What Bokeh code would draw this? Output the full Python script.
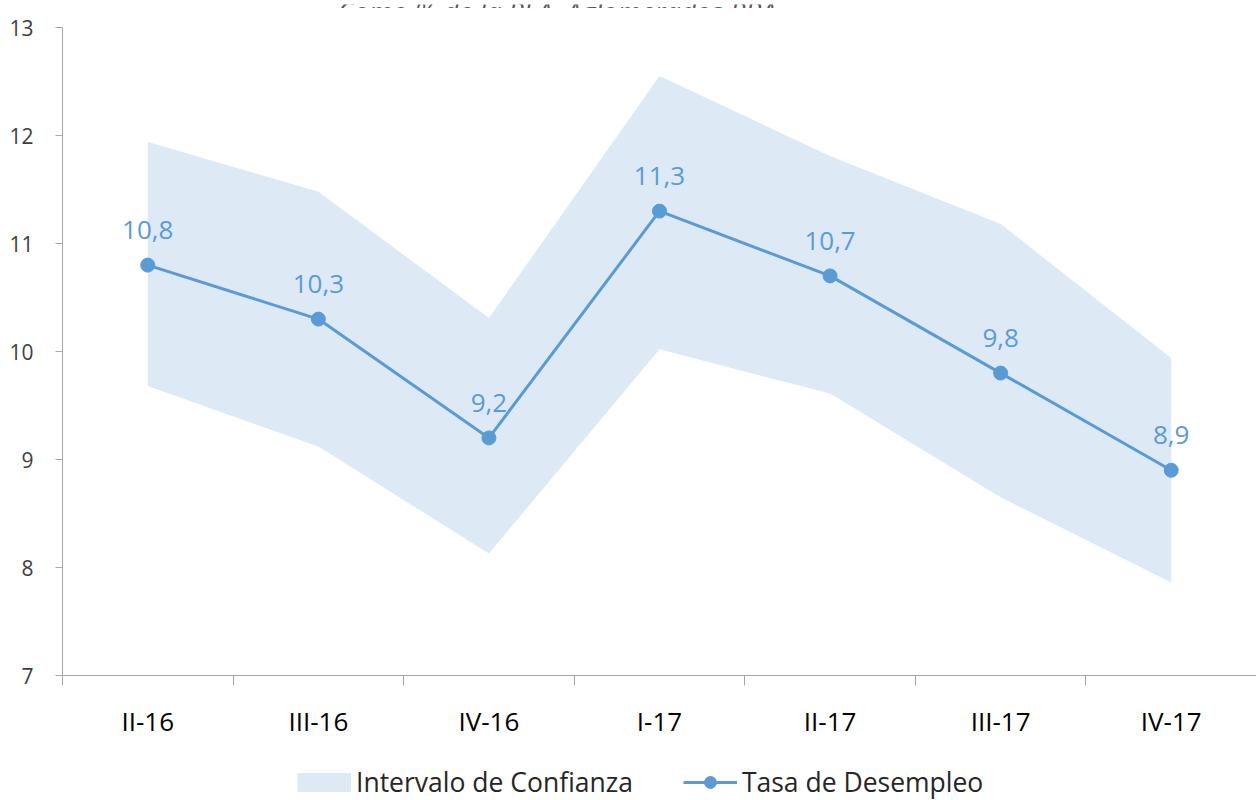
from bokeh.plotting import figure
from bokeh.layouts import column
from bokeh.models import Range1d, FixedTicker, Legend, LegendItem, Label, ColumnDataSource
from bokeh.core.properties import value
from bokeh.embed import file_html
from bokeh.resources import INLINE

# ---- data ----
categories = ["II-16", "III-16", "IV-16", "I-17", "II-17", "III-17", "IV-17"]
tasa = [10.8, 10.3, 9.2, 11.3, 10.7, 9.8, 8.9]
upper = [11.94, 11.48, 10.31, 12.55, 11.81, 11.18, 9.94]
lower = [9.68, 9.12, 8.13, 10.02, 9.61, 8.65, 7.86]
y_ticks = [7, 8, 9, 10, 11, 12, 13]
title_text = "Como % de la PEA, Aglomerados PBA"
series_names = ["Intervalo de Confianza", "Tasa de Desempleo"]

# ---- derived ----
xs = [i + 0.5 for i in range(len(categories))]
bounds = list(range(len(categories) + 1))
labels = [f"{v:.1f}".replace(".", ",") for v in tasa]
src = ColumnDataSource(dict(x=xs, tasa=tasa, upper=upper, lower=lower, lab=labels))

BLUE = "#5b9bd5"
BAND = "#dde9f5"
AXIS = "#a6a6a6"
FONT = "Open Sans"
W = 1256
LEFT = 62


def strip(h):
    f = figure(width=W, height=h, x_range=Range1d(0, len(categories)), y_range=Range1d(0, 1),
               output_backend="svg", toolbar_location=None, x_axis_location=None, y_axis_location=None,
               min_border_left=LEFT, min_border_right=0, min_border_top=0, min_border_bottom=0,
               outline_line_color=None, background_fill_color="white", border_fill_color="white")
    f.grid.visible = False
    return f


# ---- title strip (title is cut off at the top, as in the reference) ----
t = strip(8)
t.add_layout(Label(x=2.9, y=0, y_offset=1, text=title_text, text_align="center",
                   text_baseline="alphabetic", text_font=FONT, text_font_style="italic",
                   text_font_size="27px", text_color="#595959"))

# ---- main chart ----
p = figure(width=W, height=742, x_range=Range1d(0, len(categories)), y_range=Range1d(7, 13),
           output_backend="svg", toolbar_location=None,
           min_border_left=LEFT, min_border_right=0, min_border_top=19, min_border_bottom=75,
           outline_line_color=None, background_fill_color="white", border_fill_color="white")
p.grid.visible = False

p.varea(x="x", y1="lower", y2="upper", source=src, fill_color=BAND, fill_alpha=1.0)
p.line(x="x", y="tasa", source=src, line_color=BLUE, line_width=3)
p.scatter(x="x", y="tasa", source=src, size=14, marker="circle", fill_color=BLUE, line_color=BLUE)

p.text(x="x", y="tasa", text="lab", source=src, text_align="center", text_baseline="bottom",
       y_offset=-26, text_color=BLUE, text_font=value(FONT), text_font_size="26px")

# y axis
ya = p.yaxis[0]
ya.ticker = FixedTicker(ticks=y_ticks)
ya.major_tick_out = 7
ya.major_tick_in = 0
ya.minor_tick_out = 0
ya.minor_tick_in = 0
ya.axis_line_color = AXIS
ya.major_tick_line_color = AXIS
ya.major_label_standoff = 22
ya.major_label_text_font = FONT
ya.major_label_text_font_size = "21px"
ya.major_label_text_color = "#404040"

# x axis: category labels centred, tick marks on category boundaries
xa = p.xaxis[0]
xa.ticker = FixedTicker(ticks=xs, minor_ticks=bounds)
xa.major_tick_out = 0
xa.major_tick_in = 0
xa.minor_tick_out = 10
xa.minor_tick_in = 0
xa.minor_tick_line_color = AXIS
xa.axis_line_color = AXIS
xa.major_label_overrides = {x: c for x, c in zip(xs, categories)}
xa.major_label_standoff = 17
xa.major_label_text_font = FONT
xa.major_label_text_font_size = "26px"
xa.major_label_text_color = "#000000"

# ---- legend strip (proxies use the same data but lie outside this strip's ranges) ----
q = strip(50)
lg_band = q.line(x="x", y="upper", source=src, line_color=BAND, line_width=19, line_cap="butt")
lg_line = q.line(x="x", y="tasa", source=src, line_color=BLUE, line_width=3)
lg_pts = q.scatter(x="x", y="tasa", source=src, size=14, marker="circle", fill_color=BLUE, line_color=BLUE)

legend = Legend(items=[LegendItem(label=series_names[0], renderers=[lg_band]),
                       LegendItem(label=series_names[1], renderers=[lg_line, lg_pts])],
                orientation="horizontal", location=(235, 0),
                label_text_font=FONT, label_text_font_size="26.5px", label_text_color="#262626",
                glyph_width=54, glyph_height=30, spacing=50, label_standoff=5,
                border_line_color=None, background_fill_alpha=0, margin=0, padding=0)
q.add_layout(legend)

open("out.html", "w").write(file_html(column(t, p, q, spacing=0), INLINE))
